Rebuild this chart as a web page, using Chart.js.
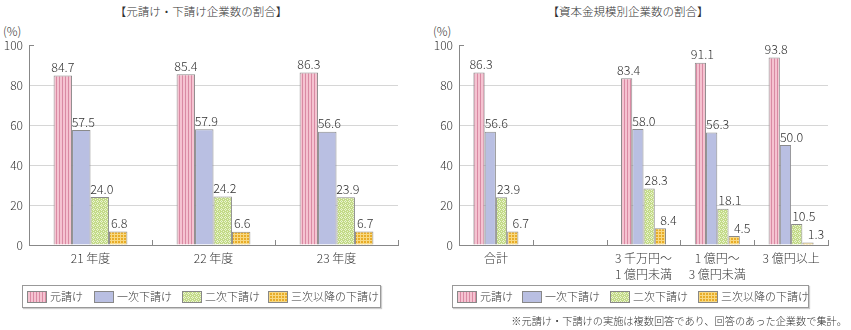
<!DOCTYPE html>
<html>
<head>
<meta charset="utf-8">
<script src="https://cdn.jsdelivr.net/npm/chart.js@4"></script>
<style>
  body { margin: 0; width: 851px; height: 330px; background: #fff; position: relative; overflow: hidden;
         font-family: "Noto Sans CJK JP", "Noto Sans", sans-serif; font-weight: 300; color: #333; }
  canvas { position: absolute; top: 0; }
  .title { position: absolute; top: 3px; font-size: 11.5px; white-space: nowrap; transform: translateX(-50%); }
  .unit { position: absolute; top: 22px; font-size: 12px; }
  .legend { position: absolute; top: 285px; height: 21px; border: 1px solid #999; box-shadow: 1px 1px 1px #ccc; }
  .item { position: absolute; top: 0; height: 21px; line-height: 21px; font-size: 11px; white-space: nowrap; }
  .item canvas { position: static; vertical-align: middle; margin-right: 3px; margin-top: -2px; border: 1px solid #888; }
  .note { position: absolute; right: 4px; top: 313px; font-size: 10.2px; white-space: nowrap; }
</style>
</head>
<body>
<div class="title" style="left:201px">【元請け・下請け企業数の割合】</div>
<div class="title" style="left:628px">【資本金規模別企業数の割合】</div>
<div class="unit" style="left:3px">(%)</div>
<div class="unit" style="left:433px">(%)</div>
<canvas id="chart1" width="425" height="330" style="left:0"></canvas>
<canvas id="chart2" width="421" height="330" style="left:430px"></canvas>
<div class="legend" id="legend1" style="left:22px; width:357px"></div>
<div class="legend" id="legend2" style="left:452px; width:355px"></div>
<div class="note">※元請け・下請けの実施は複数回答であり、回答のあった企業数で集計。</div>

<script>
const seriesNames = ['元請け', '一次下請け', '二次下請け', '三次以降の下請け'];

// 年度別
const yearLabels = ['21 年度', '22 年度', '23 年度'];
const yearPrime = [84.7, 85.4, 86.3];
const yearFirst = [57.5, 57.9, 56.6];
const yearSecond = [24.0, 24.2, 23.9];
const yearThird = [6.8, 6.6, 6.7];

// 資本金規模別 (2 番目は空き枠)
const capitalLabels = ['合計', '', ['3 千万円～', '1 億円未満'], ['1 億円～', '3 億円未満'], '3 億円以上'];
const capitalPrime = [86.3, null, 83.4, 91.1, 93.8];
const capitalFirst = [56.6, null, 58.0, 56.3, 50.0];
const capitalSecond = [23.9, null, 28.3, 18.1, 10.5];
const capitalThird = [6.7, null, 8.4, 4.5, 1.3];

const FONT = '"Noto Sans CJK JP", sans-serif';

// small tiles used as bar fills
function makeTile(w, h, draw) {
    const c = document.createElement('canvas');
    c.width = w; c.height = h;
    draw(c.getContext('2d'));
    return c;
}

const tiles = [
    makeTile(3, 3, g => {            // pink vertical stripes
        g.fillStyle = '#f5c3d1'; g.fillRect(0, 0, 3, 3);
        g.fillStyle = '#d98aa3'; g.fillRect(2, 0, 1, 3);
    }),
    makeTile(2, 2, g => {            // plain lavender
        g.fillStyle = '#b9bfe2'; g.fillRect(0, 0, 2, 2);
    }),
    makeTile(4, 4, g => {            // green lattice
        g.fillStyle = '#c3da88'; g.fillRect(0, 0, 4, 4);
        g.fillStyle = '#eaf4d0';
        g.fillRect(1, 0, 1, 1); g.fillRect(0, 1, 1, 1); g.fillRect(2, 1, 1, 1);
        g.fillRect(1, 2, 1, 1); g.fillRect(3, 3, 1, 1);
    }),
    makeTile(3, 3, g => {            // yellow grid
        g.fillStyle = '#e8ac28'; g.fillRect(0, 0, 3, 3);
        g.fillStyle = '#f8d982'; g.fillRect(0, 0, 3, 1); g.fillRect(0, 0, 1, 3);
    })
];

function patternsFor(ctx) {
    return tiles.map(t => ctx.createPattern(t, 'repeat'));
}

// value labels above each bar
const valueLabels = {
    id: 'valueLabels',
    afterDatasetsDraw(chart, args, opts) {
        const ctx = chart.ctx;
        ctx.save();
        ctx.font = '300 12.5px ' + FONT;
        ctx.fillStyle = '#333';
        ctx.textAlign = 'center';
        ctx.textBaseline = 'bottom';
        chart.data.datasets.forEach((ds, i) => {
            chart.getDatasetMeta(i).data.forEach((bar, j) => {
                const v = ds.data[j];
                if (v == null) return;
                ctx.fillText(v.toFixed(1), bar.x + opts.shift[i], bar.y - 2);
            });
        });
        ctx.restore();
    }
};

// inward tick at 100 and category separators on the x axis
const axisMarks = {
    id: 'axisMarks',
    afterDraw(chart) {
        const ctx = chart.ctx;
        const a = chart.chartArea;
        const n = chart.data.labels.length;
        ctx.save();
        ctx.strokeStyle = '#888';
        ctx.lineWidth = 1;
        ctx.beginPath();
        ctx.moveTo(a.left, a.top + 0.5);
        ctx.lineTo(a.left + 5, a.top + 0.5);
        for (let i = 1; i <= n; i++) {
            const x = Math.round(a.left + i * (a.right - a.left) / n) + 0.5;
            ctx.moveTo(x, a.bottom);
            ctx.lineTo(x, a.bottom - 5);
        }
        ctx.stroke();
        ctx.restore();
    }
};

function makeChart(id, labels, series, padRight, catPct, shift) {
    const ctx = document.getElementById(id).getContext('2d');
    const fills = patternsFor(ctx);
    return new Chart(ctx, {
        type: 'bar',
        data: {
            labels: labels,
            datasets: series.map((d, i) => ({
                label: seriesNames[i],
                data: d,
                backgroundColor: fills[i],
                borderColor: '#8a8a8a',
                borderWidth: 1,
                categoryPercentage: catPct,
                barPercentage: 1.0
            }))
        },
        options: {
            responsive: false,
            animation: false,
            devicePixelRatio: 1,
            layout: { padding: { top: 45, right: padRight, bottom: 45, left: 0 } },
            plugins: {
                legend: { display: false },
                tooltip: { enabled: false },
                valueLabels: { shift: shift }
            },
            scales: {
                x: {
                    grid: { display: false, drawTicks: false },
                    border: { color: '#888' },
                    ticks: {
                        color: '#333',
                        font: { size: 12, family: FONT, weight: 300, lineHeight: 1.3 },
                        padding: 6,
                        maxRotation: 0,
                        autoSkip: false
                    },
                    afterFit: s => { s.height = 40; }
                },
                y: {
                    min: 0,
                    max: 100,
                    grid: {
                        drawTicks: false,
                        color: c => (c.tick.value === 0 || c.tick.value === 100) ? 'rgba(0,0,0,0)' : '#d6d6d6'
                    },
                    border: { color: '#888' },
                    ticks: {
                        stepSize: 20,
                        color: '#333',
                        font: { size: 12, family: FONT, weight: 300 },
                        padding: 6
                    },
                    afterFit: s => { s.width = 29; }
                }
            }
        },
        plugins: [valueLabels, axisMarks]
    });
}

makeChart('chart1', yearLabels, [yearPrime, yearFirst, yearSecond, yearThird], 27, 0.6, [0, 2, 2, 1]);
makeChart('chart2', capitalLabels, [capitalPrime, capitalFirst, capitalSecond, capitalThird], 23, 0.61, [2, 6, 7, 8]);

// legends with the same fills
function buildLegend(id, positions) {
    const box = document.getElementById(id);
    seriesNames.forEach((name, i) => {
        const item = document.createElement('div');
        item.className = 'item';
        item.style.left = positions[i] + 'px';
        const sw = document.createElement('canvas');
        sw.width = 18; sw.height = 10;
        const g = sw.getContext('2d');
        g.fillStyle = g.createPattern(tiles[i], 'repeat');
        g.fillRect(0, 0, 18, 10);
        item.appendChild(sw);
        item.appendChild(document.createTextNode(name));
        box.appendChild(item);
    });
}

buildLegend('legend1', [4, 71, 159, 245]);
buildLegend('legend2', [4, 69, 157, 245]);
</script>
</body>
</html>
